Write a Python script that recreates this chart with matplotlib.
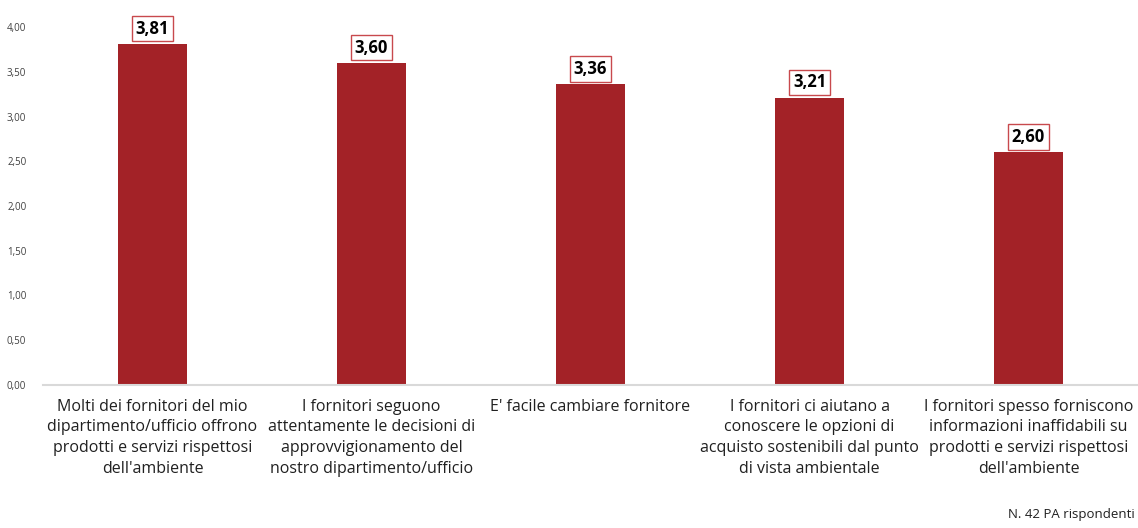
import numpy as np
import matplotlib.pyplot as plt

categories = [
    "Molti dei fornitori del mio\ndipartimento/ufficio offrono\nprodotti e servizi rispettosi\ndell'ambiente",
    "I fornitori seguono\nattentamente le decisioni di\napprovvigionamento del\nnostro dipartimento/ufficio",
    "E' facile cambiare fornitore",
    "I fornitori ci aiutano a\nconoscere le opzioni di\nacquisto sostenibili dal punto\ndi vista ambientale",
    "I fornitori spesso forniscono\ninformazioni inaffidabili su\nprodotti e servizi rispettosi\ndell'ambiente",
]
values = [3.81, 3.60, 3.36, 3.21, 2.60]
yticks = [0, 0.5, 1.0, 1.5, 2.0, 2.5, 3.0, 3.5, 4.0]

plt.rcParams['font.family'] = ['Open Sans', 'DejaVu Sans']

fig = plt.figure(figsize=(11.38, 5.28), dpi=100)
ax = fig.add_axes([43 / 1138, 1 - 385 / 528, 1 - 43 / 1138, (385 - 27) / 528])

x = np.arange(len(values))
ax.bar(x, values, width=0.315, color='#A32227')

for xi, v in zip(x, values):
    ax.annotate(f"{v:.2f}".replace('.', ','), (xi, v), xytext=(0, 4.5),
                textcoords='offset points', ha='center', va='bottom',
                fontsize=12, fontweight='bold', color='black',
                bbox=dict(boxstyle='square,pad=0.22', fc='white', ec='#C8494D', lw=1))

ax.set_xlim(-0.5, len(values) - 0.5)
ax.set_ylim(0, 4)
ax.set_yticks(yticks)
ax.set_yticklabels([f"{t:.2f}".replace('.', ',') for t in yticks], fontsize=7, color='#404040')
ax.set_xticks(x)
ax.set_xticklabels(categories, fontsize=11.5, color='#202020', linespacing=1.38)
ax.tick_params(axis='both', length=0)
ax.tick_params(axis='x', pad=10)
ax.tick_params(axis='y', pad=12)
for s in ['top', 'right', 'left']:
    ax.spines[s].set_visible(False)
ax.spines['bottom'].set_color('#D9D9D9')
ax.spines['bottom'].set_linewidth(1.5)

fig.text(1 - 3 / 1138, 1 - 521 / 528, "N. 42 PA rispondenti", ha='right', va='bottom',
         fontsize=9.5, color='#202020')

fig.savefig('out.png', dpi=100)
